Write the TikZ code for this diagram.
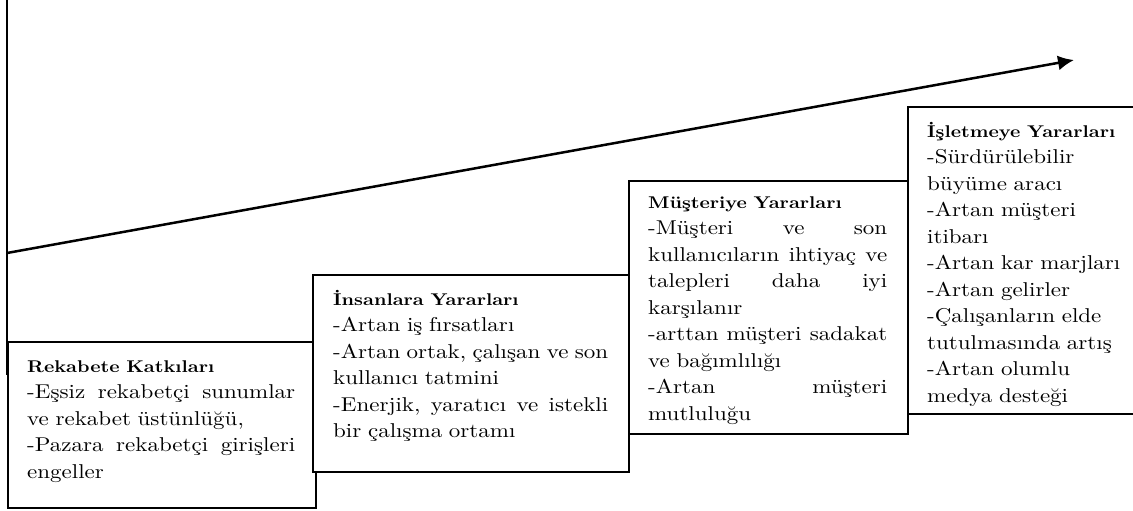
\documentclass[tikz,border=0pt]{standalone}
\usepackage{fontspec}
\setmainfont{lmroman10-regular.otf}[BoldFont=lmroman10-bold.otf, FakeStretch=1.15]
\usetikzlibrary{arrows.meta}
\setlength\parindent{0pt}
\newcommand\jline[2]{\leavevmode\hbox to #1{#2}}
\newcommand\btitle[1]{\rule{0pt}{19pt}\mbox{\fontsize{17}{26.5}\selectfont\bfseries #1}}
\begin{document}
\begin{tikzpicture}[x=1pt,y=-1pt,
  box/.style={draw, line width=1.7pt, fill=white, anchor=north west, inner sep=0pt},
  txt/.style={anchor=north west, inner sep=0pt, align=left, font=\fontsize{20}{26.5}\selectfont},
  ]
\useasboundingbox (0,0) rectangle (1133,511);
% boxes
\node[box, minimum width=308pt, minimum height=166pt] (b1) at (7,341) {};
\node[box, minimum width=316pt, minimum height=197pt] (b2) at (312,274) {};
\node[box, minimum width=279pt, minimum height=253pt] (b3) at (628,180) {};
\node[box, minimum width=240pt, minimum height=307pt] (b4) at (907,106) {};
% axis and trend arrow
\coordinate (atop) at (7,0);
\coordinate (abot) at (7,375);
\draw[line width=1.7pt] (atop) -- (abot);
\coordinate (s) at (7,253);
\coordinate (e) at (1074,60);
\draw[line width=2.5pt, -{Latex[length=16pt,width=15pt]}] (s) -- (e);
% texts
\node[txt, text width=268pt] (t1) at (27,353) {%
\btitle{Rekabete Katkıları}\\
\jline{268pt}{-Eşsiz\hfill rekabetçi\hfill sunumlar}\\
ve rekabet üstünlüğü,\\
\jline{268pt}{-Pazara\hfill rekabetçi\hfill girişleri}\\
engeller};
\node[txt, text width=275pt] (t2) at (333,286) {%
\btitle{İnsanlara Yararları}\\
-Artan iş fırsatları\\
\jline{275pt}{-Artan\hfill ortak,\hfill çalışan\hfill ve\hfill son}\\
kullanıcı tatmini\\
\jline{275pt}{-Enerjik,\hfill yaratıcı\hfill ve\hfill istekli}\\
bir çalışma ortamı};
\node[txt, text width=239pt] (t3) at (648,189) {%
\btitle{Müşteriye Yararları}\\
\jline{239pt}{-Müşteri\hfill ve\hfill son}\\
\jline{239pt}{kullanıcıların\hfill ihtiyaç\hfill ve}\\
\jline{239pt}{talepleri\hfill daha\hfill iyi}\\
karşılanır\\
\jline{239pt}{-arttan\hfill müşteri\hfill sadakat}\\
ve bağımlılığı\\
\jline{239pt}{-Artan\hfill müşteri}\\
mutluluğu};
\begin{scope}
\clip (900,100) rectangle (1133,406);
\node[txt, text width=200pt] (t4) at (927,118) {%
\btitle{İşletmeye Yararları}\\
-Sürdürülebilir\\
büyüme aracı\\
-Artan müşteri\\
itibarı\\
-Artan kar marjları\\
-Artan gelirler\\
-Çalışanların elde\\
tutulmasında artış\\
-Artan olumlu\\
medya desteği};
\end{scope}
\end{tikzpicture}
\end{document}
